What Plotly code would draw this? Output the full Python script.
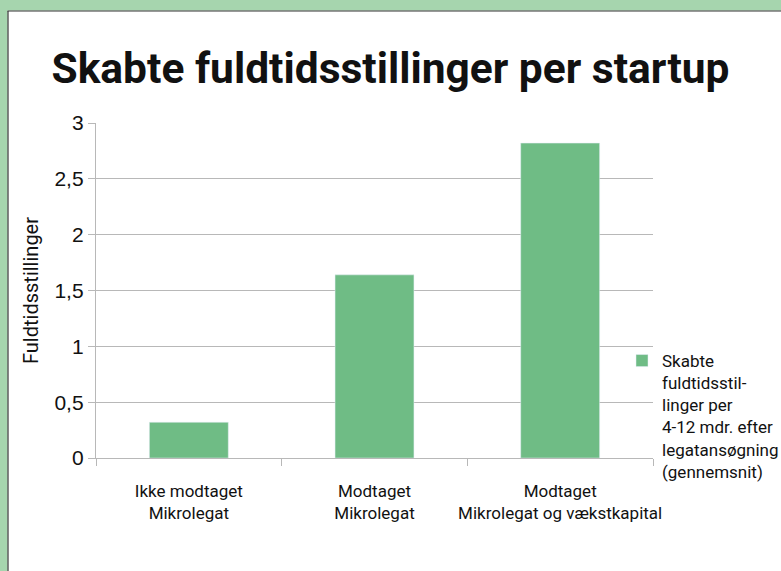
import plotly.graph_objects as go

categories = ["Ikke modtaget<br>Mikrolegat", "Modtaget<br>Mikrolegat", "Modtaget<br>Mikrolegat og vækstkapital"]
values = [0.32, 1.64, 2.82]
series_name = "Skabte<br>fuldtidsstil-<br>linger per<br>4-12 mdr. efter<br>legatansøgning<br>(gennemsnit)"
y_tickvals = [0, 0.5, 1, 1.5, 2, 2.5, 3]
y_ticktext = ["0", "0,5", "1", "1,5", "2", "2,5", "3"]

W, H = 781, 571
L, R, T, B = 96, 128, 123, 113
pw = W - L - R
ph = H - T - B

def px(x):
    return (x - L) / pw

def py(y):
    return (H - B - y) / ph

GREEN_BG = "#a6d5ae"
BAR = "#6fbc85"
GRID = "#b8b8b8"

fig = go.Figure()
fig.add_trace(go.Bar(x=categories, y=values, name=series_name, marker_color=BAR,
                     showlegend=True))

shapes = [
    dict(type="rect", xref="paper", yref="paper", x0=px(0), x1=px(W), y0=py(0), y1=py(10.5),
         fillcolor=GREEN_BG, line_width=0, layer="below"),
    dict(type="rect", xref="paper", yref="paper", x0=px(0), x1=px(7.5), y0=py(0), y1=py(H),
         fillcolor=GREEN_BG, line_width=0, layer="below"),
    dict(type="line", xref="paper", yref="paper", x0=px(7.5), x1=px(W), y0=py(11), y1=py(11),
         line=dict(color="#333333", width=1.2), layer="below"),
    dict(type="line", xref="paper", yref="paper", x0=px(8), x1=px(8), y0=py(11), y1=py(H),
         line=dict(color="#333333", width=1.2), layer="below"),
]

fig.update_layout(
    width=W, height=H,
    margin=dict(l=L, r=R, t=T, b=B, autoexpand=False),
    paper_bgcolor="white", plot_bgcolor="white",
    shapes=shapes,
    bargap=0.575,
    title=dict(text="<b>Skabte fuldtidsstillinger per startup</b>",
               font=dict(family="Roboto", size=42.5, color="#111111"),
               x=0.5, xref="container", xanchor="center",
               y=1 - 68/H, yref="container", yanchor="middle"),
    xaxis=dict(showline=True, linecolor=GRID, linewidth=1.4,
               ticks="outside", tickson="boundaries", ticklen=7, tickcolor=GRID, tickwidth=1.4,
               tickfont=dict(family="Roboto", size=17, color="#111111"),
               tickangle=0, showgrid=False, ticklabelstandoff=17),
    yaxis=dict(range=[0, 3], tickvals=y_tickvals, ticktext=y_ticktext,
               showline=True, linecolor=GRID, linewidth=1.4,
               ticks="outside", ticklen=7, tickcolor=GRID, tickwidth=1.4,
               showgrid=True, gridcolor=GRID, gridwidth=1.4, zeroline=False,
               tickfont=dict(family="Liberation Sans", size=21, color="#111111"),
               title=dict(text="Fuldtidsstillinger", standoff=10,
                          font=dict(family="Roboto", size=20, color="#111111"))),
    legend=dict(x=px(622), y=py(343), xanchor="left", yanchor="top", valign="top",
                font=dict(family="Roboto", size=17, color="#111111"),
                bgcolor="rgba(0,0,0,0)", borderwidth=0, tracegroupgap=0),
)

fig.write_html("out.html", config={"displayModeBar": False},
               post_script="document.body.style.margin='0';document.body.style.padding='0';"
                           "document.body.style.overflow='hidden';")
